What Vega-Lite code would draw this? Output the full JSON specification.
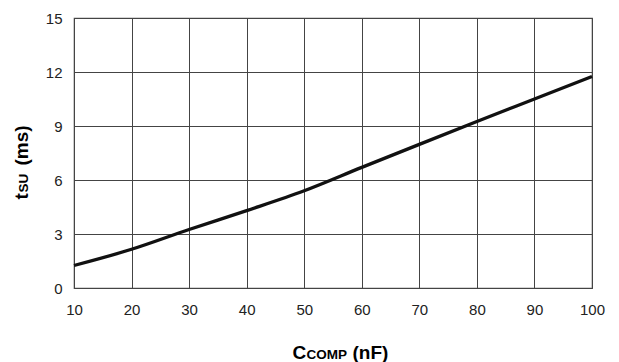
{
  "$schema": "https://vega.github.io/schema/vega-lite/v6.json",
  "width": 518,
  "height": 270,
  "autosize": "none",
  "padding": {"left": 74, "top": 18, "right": 27, "bottom": 74},
  "background": "white",
  "config": {
    "font": "Liberation Sans",
    "view": {"stroke": "#555", "strokeWidth": 1.2},
    "axis": {"titleFont": "Liberation Sans", "titleFontWeight": "bold", "titleColor": "#000", "titleBaseline": "alphabetic", "titleAlign": "left"}
  },
  "data": {
    "values": [
      {"c": 10, "t": 1.25},
      {"c": 20, "t": 2.15},
      {"c": 30, "t": 3.25},
      {"c": 40, "t": 4.3},
      {"c": 50, "t": 5.4},
      {"c": 60, "t": 6.7},
      {"c": 70, "t": 7.98},
      {"c": 80, "t": 9.25},
      {"c": 90, "t": 10.5},
      {"c": 100, "t": 11.75}
    ]
  },
  "layer": [
    {
      "mark": {"type": "line", "color": "#111", "strokeWidth": 3.3, "interpolate": "monotone"},
      "encoding": {
        "x": {
          "field": "c", "type": "quantitative",
          "scale": {"domain": [10, 100], "nice": false},
          "axis": {
            "orient": "bottom",
            "values": [10, 20, 30, 40, 50, 60, 70, 80, 90, 100],
            "title": "C", "titleFontSize": 19, "titleX": 218, "titleY": 70, "titleAngle": 0,
            "labelFontSize": 15, "labelColor": "#222", "labelPadding": 14, "labelFlush": false,
            "ticks": false, "domain": false,
            "gridColor": "#444", "gridOpacity": 1, "gridWidth": 1
          }
        },
        "y": {
          "field": "t", "type": "quantitative",
          "scale": {"domain": [0, 15], "nice": false},
          "axis": {
            "orient": "left",
            "values": [0, 3, 6, 9, 12, 15],
            "title": "t", "titleFontSize": 19, "titleX": -47, "titleY": 181, "titleAngle": 270,
            "labelFontSize": 15, "labelColor": "#222", "labelPadding": 12,
            "ticks": false, "domain": false,
            "gridColor": "#444", "gridOpacity": 1, "gridWidth": 1
          }
        }
      }
    },
    {
      "mark": {"type": "line", "opacity": 0},
      "encoding": {
        "x": {
          "field": "c", "type": "quantitative",
          "scale": {"domain": [10, 100], "nice": false},
          "axis": {
            "orient": "bottom", "labels": false, "ticks": false, "domain": false, "grid": false,
            "title": "COMP", "titleFontSize": 13.5, "titleX": 232, "titleY": 70, "titleAngle": 0
          }
        },
        "y": {
          "field": "t", "type": "quantitative",
          "scale": {"domain": [0, 15], "nice": false},
          "axis": {
            "orient": "left", "labels": false, "ticks": false, "domain": false, "grid": false,
            "title": "SU", "titleFontSize": 13.5, "titleX": -47, "titleY": 174, "titleAngle": 270
          }
        }
      }
    },
    {
      "mark": {"type": "line", "opacity": 0},
      "encoding": {
        "x": {
          "field": "c", "type": "quantitative",
          "scale": {"domain": [10, 100], "nice": false},
          "axis": {
            "orient": "bottom", "labels": false, "ticks": false, "domain": false, "grid": false,
            "title": "(nF)", "titleFontSize": 19, "titleX": 278, "titleY": 70, "titleAngle": 0
          }
        },
        "y": {
          "field": "t", "type": "quantitative",
          "scale": {"domain": [0, 15], "nice": false},
          "axis": {
            "orient": "left", "labels": false, "ticks": false, "domain": false, "grid": false,
            "title": "(ms)", "titleFontSize": 19, "titleX": -47, "titleY": 147, "titleAngle": 270
          }
        }
      }
    }
  ],
  "resolve": {"scale": {"x": "independent", "y": "independent"}}
}
